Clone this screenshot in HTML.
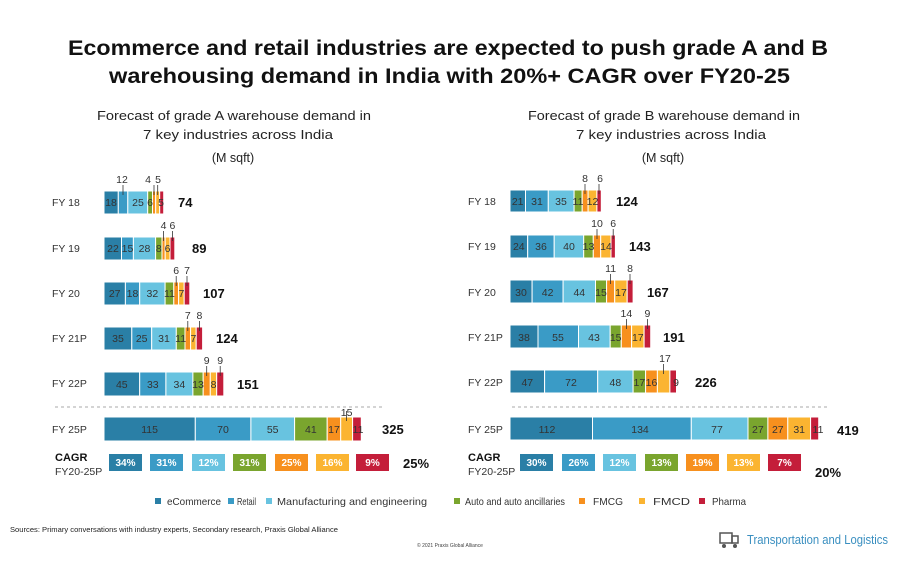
<!DOCTYPE html>
<html><head><meta charset="utf-8"><style>
body{margin:0;background:#fff}
svg{display:block;font-family:"Liberation Sans",sans-serif}
.e{fill:#2a7fa6}.r{fill:#3a9bc6}.m{fill:#68c3e0}.a{fill:#7aa52e}.g{fill:#f7901e}.d{fill:#fbb431}.p{fill:#c41e3a}
rect.s{stroke:#fff;stroke-width:1}
.in{font-size:10.5px;fill:#333;text-anchor:middle}
.ab{font-size:10.5px;fill:#333;text-anchor:middle}
.yr{font-size:10.5px;fill:#333}
.tot{font-size:13px;font-weight:bold;fill:#111}
.cg{font-size:10px;font-weight:bold;fill:#fff;text-anchor:middle}
line.l{stroke:#333;stroke-width:0.8}
.lg{font-size:10.5px;fill:#333}
</style></head><body>
<svg width="900" height="564" viewBox="0 0 900 564">
<text x="68" y="55" font-size="21" font-weight="bold" fill="#111" textLength="760" lengthAdjust="spacingAndGlyphs">Ecommerce and retail industries are expected to push grade A and B</text>
<text x="109" y="83" font-size="21" font-weight="bold" fill="#111" textLength="681" lengthAdjust="spacingAndGlyphs">warehousing demand in India with 20%+ CAGR over FY20-25</text>
<g font-size="12.5" fill="#222">
<text x="97" y="120" textLength="274" lengthAdjust="spacingAndGlyphs">Forecast of grade A warehouse demand in</text>
<text x="143" y="139" textLength="190" lengthAdjust="spacingAndGlyphs">7 key industries across India</text>
<text x="233" y="162" text-anchor="middle">(M sqft)</text>
<text x="528" y="120" textLength="272" lengthAdjust="spacingAndGlyphs">Forecast of grade B warehouse demand in</text>
<text x="576" y="139" textLength="190" lengthAdjust="spacingAndGlyphs">7 key industries across India</text>
<text x="663" y="162" text-anchor="middle">(M sqft)</text>
</g>

<!-- LEFT -->
<g class="yr"><text x="52" y="206">FY 18</text><text x="52" y="252">FY 19</text><text x="52" y="297">FY 20</text><text x="52" y="342">FY 21P</text><text x="52" y="387">FY 22P</text><text x="52" y="433">FY 25P</text></g>
<rect class="s e" x="104" y="191" width="14.3" height="23"/><rect class="s r" x="118.3" y="191" width="9.5" height="23"/><rect class="s m" x="127.8" y="191" width="19.9" height="23"/><rect class="s a" x="147.7" y="191" width="4.8" height="23"/><rect class="s g" x="152.5" y="191" width="3.2" height="23"/><rect class="s d" x="155.7" y="191" width="4" height="23"/><rect class="s p" x="159.7" y="191" width="4" height="23"/>
<text class="in" x="111" y="206">18</text><text class="in" x="138" y="206">25</text><text class="in" x="150" y="206">6</text><text class="in" x="161" y="206">5</text>
<line class="l" x1="123" y1="185" x2="123" y2="195"/><text class="ab" x="122" y="183">12</text>
<line class="l" x1="154" y1="185" x2="154" y2="195"/><text class="ab" x="148" y="183">4</text>
<line class="l" x1="157.7" y1="185" x2="157.7" y2="195"/><text class="ab" x="158" y="183">5</text>
<text class="tot" x="178" y="207">74</text>
<rect class="s e" x="104" y="237" width="17.5" height="23"/><rect class="s r" x="121.5" y="237" width="11.9" height="23"/><rect class="s m" x="133.4" y="237" width="22.2" height="23"/><rect class="s a" x="155.6" y="237" width="6.4" height="23"/><rect class="s g" x="162" y="237" width="3.2" height="23"/><rect class="s d" x="165.2" y="237" width="4.8" height="23"/><rect class="s p" x="170" y="237" width="4.8" height="23"/>
<text class="in" x="113" y="252">22</text><text class="in" x="127.5" y="252">15</text><text class="in" x="144.5" y="252">28</text><text class="in" x="158.8" y="252">8</text><text class="in" x="167.6" y="252">6</text>
<line class="l" x1="163.6" y1="231" x2="163.6" y2="241"/><text class="ab" x="163.6" y="229">4</text>
<line class="l" x1="172.4" y1="231" x2="172.4" y2="241"/><text class="ab" x="172.4" y="229">6</text>
<text class="tot" x="192" y="253">89</text>
<rect class="s e" x="104" y="282" width="21.4" height="23"/><rect class="s r" x="125.4" y="282" width="14.3" height="23"/><rect class="s m" x="139.7" y="282" width="25.4" height="23"/><rect class="s a" x="165.1" y="282" width="8.7" height="23"/><rect class="s g" x="173.8" y="282" width="4.8" height="23"/><rect class="s d" x="178.6" y="282" width="5.6" height="23"/><rect class="s p" x="184.2" y="282" width="5.6" height="23"/>
<text class="in" x="114.7" y="297">27</text><text class="in" x="132.5" y="297">18</text><text class="in" x="152.4" y="297">32</text><text class="in" x="169.4" y="297">11</text><text class="in" x="181.4" y="297">7</text>
<line class="l" x1="176.2" y1="276" x2="176.2" y2="286"/><text class="ab" x="176.2" y="274">6</text>
<line class="l" x1="187" y1="276" x2="187" y2="286"/><text class="ab" x="187" y="274">7</text>
<text class="tot" x="203" y="298">107</text>
<rect class="s e" x="104" y="327" width="27.8" height="23"/><rect class="s r" x="131.8" y="327" width="19.9" height="23"/><rect class="s m" x="151.7" y="327" width="24.6" height="23"/><rect class="s a" x="176.3" y="327" width="8.7" height="23"/><rect class="s g" x="185" y="327" width="5.6" height="23"/><rect class="s d" x="190.6" y="327" width="5.6" height="23"/><rect class="s p" x="196.2" y="327" width="6.4" height="23"/>
<text class="in" x="118" y="342">35</text><text class="in" x="141.7" y="342">25</text><text class="in" x="164" y="342">31</text><text class="in" x="180.6" y="342">11</text><text class="in" x="193.4" y="342">7</text>
<line class="l" x1="187.8" y1="321" x2="187.8" y2="331"/><text class="ab" x="187.8" y="319">7</text>
<line class="l" x1="199.4" y1="321" x2="199.4" y2="331"/><text class="ab" x="199.4" y="319">8</text>
<text class="tot" x="216" y="343">124</text>
<rect class="s e" x="104" y="372" width="35.7" height="24"/><rect class="s r" x="139.7" y="372" width="26.2" height="24"/><rect class="s m" x="165.9" y="372" width="27" height="24"/><rect class="s a" x="192.9" y="372" width="10.3" height="24"/><rect class="s g" x="203.2" y="372" width="7.1" height="24"/><rect class="s d" x="210.3" y="372" width="6.4" height="24"/><rect class="s p" x="216.7" y="372" width="7.1" height="24"/>
<text class="in" x="121.8" y="388">45</text><text class="in" x="152.8" y="388">33</text><text class="in" x="179.4" y="388">34</text><text class="in" x="198" y="388">13</text><text class="in" x="213.5" y="388">8</text>
<line class="l" x1="206.7" y1="366" x2="206.7" y2="376"/><text class="ab" x="206.7" y="364">9</text>
<line class="l" x1="220.2" y1="366" x2="220.2" y2="376"/><text class="ab" x="220.2" y="364">9</text>
<text class="tot" x="237" y="389">151</text>
<line x1="55" y1="407" x2="383" y2="407" stroke="#aaa" stroke-dasharray="3,3"/>
<rect class="s e" x="104" y="417" width="91.3" height="24"/><rect class="s r" x="195.3" y="417" width="55.6" height="24"/><rect class="s m" x="250.9" y="417" width="43.7" height="24"/><rect class="s a" x="294.6" y="417" width="32.6" height="24"/><rect class="s g" x="327.2" y="417" width="13.5" height="24"/><rect class="s d" x="340.7" y="417" width="11.9" height="24"/><rect class="s p" x="352.6" y="417" width="8.7" height="24"/>
<text class="in" x="149.6" y="433">115</text><text class="in" x="223" y="433">70</text><text class="in" x="272.7" y="433">55</text><text class="in" x="310.9" y="433">41</text><text class="in" x="334" y="433">17</text><text class="in" x="358" y="433">11</text>
<line class="l" x1="346.6" y1="411" x2="346.6" y2="421"/><text class="ab" x="346.6" y="416">15</text>
<text class="tot" x="382" y="434">325</text>
<text x="55" y="461" font-size="11" font-weight="bold" fill="#111">CAGR</text><text x="55" y="475" font-size="10.5" fill="#333">FY20-25P</text>
<rect class="e" x="109" y="454" width="33" height="17"/><text class="cg" x="125.5" y="466">34%</text>
<rect class="r" x="150" y="454" width="33" height="17"/><text class="cg" x="166.5" y="466">31%</text>
<rect class="m" x="192" y="454" width="33" height="17"/><text class="cg" x="208.5" y="466">12%</text>
<rect class="a" x="233" y="454" width="33" height="17"/><text class="cg" x="249.5" y="466">31%</text>
<rect class="g" x="275" y="454" width="33" height="17"/><text class="cg" x="291.5" y="466">25%</text>
<rect class="d" x="316" y="454" width="33" height="17"/><text class="cg" x="332.5" y="466">16%</text>
<rect class="p" x="356" y="454" width="33" height="17"/><text class="cg" x="372.5" y="466">9%</text>
<text class="tot" x="403" y="468">25%</text>

<!-- RIGHT -->
<g class="yr"><text x="468" y="205">FY 18</text><text x="468" y="250">FY 19</text><text x="468" y="296">FY 20</text><text x="468" y="341">FY 21P</text><text x="468" y="386">FY 22P</text><text x="468" y="433">FY 25P</text></g>
<rect class="s e" x="510" y="190" width="15.5" height="22"/><rect class="s r" x="525.5" y="190" width="22.8" height="22"/><rect class="s m" x="548.3" y="190" width="25.8" height="22"/><rect class="s a" x="574.1" y="190" width="8.1" height="22"/><rect class="s g" x="582.2" y="190" width="5.9" height="22"/><rect class="s d" x="588.1" y="190" width="8.8" height="22"/><rect class="s p" x="596.9" y="190" width="4.4" height="22"/>
<text class="in" x="517.7" y="205">21</text><text class="in" x="537" y="205">31</text><text class="in" x="561" y="205">35</text><text class="in" x="578" y="205">11</text><text class="in" x="592.5" y="205">12</text>
<line class="l" x1="585" y1="184" x2="585" y2="194"/><text class="ab" x="585" y="182">8</text>
<line class="l" x1="599" y1="184" x2="599" y2="194"/><text class="ab" x="600" y="182">6</text>
<text class="tot" x="616" y="206">124</text>
<rect class="s e" x="510" y="235" width="17.7" height="23"/><rect class="s r" x="527.7" y="235" width="26.5" height="23"/><rect class="s m" x="554.2" y="235" width="29.5" height="23"/><rect class="s a" x="583.7" y="235" width="9.6" height="23"/><rect class="s g" x="593.3" y="235" width="7.4" height="23"/><rect class="s d" x="600.7" y="235" width="10.3" height="23"/><rect class="s p" x="611" y="235" width="4.4" height="23"/>
<text class="in" x="518.8" y="250">24</text><text class="in" x="541" y="250">36</text><text class="in" x="569" y="250">40</text><text class="in" x="588.5" y="250">13</text><text class="in" x="606" y="250">14</text>
<line class="l" x1="597" y1="229" x2="597" y2="239"/><text class="ab" x="597" y="227">10</text>
<line class="l" x1="613.2" y1="229" x2="613.2" y2="239"/><text class="ab" x="613.2" y="227">6</text>
<text class="tot" x="629" y="251">143</text>
<rect class="s e" x="510" y="280" width="22.1" height="23"/><rect class="s r" x="532.1" y="280" width="31" height="23"/><rect class="s m" x="563.1" y="280" width="32.4" height="23"/><rect class="s a" x="595.5" y="280" width="11.1" height="23"/><rect class="s g" x="606.6" y="280" width="8.1" height="23"/><rect class="s d" x="614.7" y="280" width="12.5" height="23"/><rect class="s p" x="627.2" y="280" width="5.9" height="23"/>
<text class="in" x="521" y="296">30</text><text class="in" x="547.6" y="296">42</text><text class="in" x="579.3" y="296">44</text><text class="in" x="601" y="296">15</text><text class="in" x="621" y="296">17</text>
<line class="l" x1="610.6" y1="274" x2="610.6" y2="284"/><text class="ab" x="610.6" y="272">11</text>
<line class="l" x1="630" y1="274" x2="630" y2="284"/><text class="ab" x="630" y="272">8</text>
<text class="tot" x="647" y="297">167</text>
<rect class="s e" x="510" y="325" width="28" height="23"/><rect class="s r" x="538" y="325" width="40.5" height="23"/><rect class="s m" x="578.5" y="325" width="31.7" height="23"/><rect class="s a" x="610.2" y="325" width="11.1" height="23"/><rect class="s g" x="621.3" y="325" width="10.3" height="23"/><rect class="s d" x="631.6" y="325" width="12.5" height="23"/><rect class="s p" x="644.1" y="325" width="6.6" height="23"/>
<text class="in" x="524" y="341">38</text><text class="in" x="558" y="341">55</text><text class="in" x="594" y="341">43</text><text class="in" x="615.7" y="341">15</text><text class="in" x="637.8" y="341">17</text>
<line class="l" x1="626.4" y1="319" x2="626.4" y2="329"/><text class="ab" x="626.4" y="317">14</text>
<line class="l" x1="647.4" y1="319" x2="647.4" y2="329"/><text class="ab" x="647.4" y="317">9</text>
<text class="tot" x="663" y="342">191</text>
<rect class="s e" x="510" y="370" width="34.6" height="23"/><rect class="s r" x="544.6" y="370" width="53.1" height="23"/><rect class="s m" x="597.7" y="370" width="35.4" height="23"/><rect class="s a" x="633.1" y="370" width="12.5" height="23"/><rect class="s g" x="645.6" y="370" width="11.8" height="23"/><rect class="s d" x="657.4" y="370" width="12.5" height="23"/><rect class="s p" x="669.9" y="370" width="6.6" height="23"/>
<text class="in" x="527.3" y="386">47</text><text class="in" x="571" y="386">72</text><text class="in" x="615.4" y="386">48</text><text class="in" x="639.4" y="386">17</text><text class="in" x="651.5" y="386">16</text><text class="in" x="676" y="386">9</text>
<line class="l" x1="663.6" y1="364" x2="663.6" y2="374"/><text class="ab" x="665" y="362">17</text>
<text class="tot" x="695" y="387">226</text>
<line x1="512" y1="407" x2="828" y2="407" stroke="#aaa" stroke-dasharray="3,3"/>
<rect class="s e" x="510" y="417" width="82.5" height="23"/><rect class="s r" x="592.5" y="417" width="98.8" height="23"/><rect class="s m" x="691.3" y="417" width="56.7" height="23"/><rect class="s a" x="748" y="417" width="19.9" height="23"/><rect class="s g" x="767.9" y="417" width="19.9" height="23"/><rect class="s d" x="787.8" y="417" width="22.8" height="23"/><rect class="s p" x="810.6" y="417" width="8.1" height="23"/>
<text class="in" x="547" y="433">112</text><text class="in" x="640" y="433">134</text><text class="in" x="717" y="433">77</text><text class="in" x="757.9" y="433">27</text><text class="in" x="777.8" y="433">27</text><text class="in" x="799.2" y="433">31</text><text class="in" x="818" y="433">11</text>
<text class="tot" x="837" y="435">419</text>
<text x="468" y="461" font-size="11" font-weight="bold" fill="#111">CAGR</text><text x="468" y="475" font-size="10.5" fill="#333">FY20-25P</text>
<rect class="e" x="520" y="454" width="33" height="17"/><text class="cg" x="536.5" y="466">30%</text>
<rect class="r" x="562" y="454" width="33" height="17"/><text class="cg" x="578.5" y="466">26%</text>
<rect class="m" x="603" y="454" width="33" height="17"/><text class="cg" x="619.5" y="466">12%</text>
<rect class="a" x="645" y="454" width="33" height="17"/><text class="cg" x="661.5" y="466">13%</text>
<rect class="g" x="686" y="454" width="33" height="17"/><text class="cg" x="702.5" y="466">19%</text>
<rect class="d" x="727" y="454" width="33" height="17"/><text class="cg" x="743.5" y="466">13%</text>
<rect class="p" x="768" y="454" width="33" height="17"/><text class="cg" x="784.5" y="466">7%</text>
<text class="tot" x="815" y="477">20%</text>

<!-- legend -->
<rect class="e" x="155" y="498" width="6" height="6"/><text class="lg" x="167" y="505" textLength="54" lengthAdjust="spacingAndGlyphs">eCommerce</text>
<rect class="r" x="228" y="498" width="6" height="6"/><text class="lg" x="237" y="505" textLength="19" lengthAdjust="spacingAndGlyphs">Retail</text>
<rect class="m" x="266" y="498" width="6" height="6"/><text class="lg" x="277" y="505" textLength="150" lengthAdjust="spacingAndGlyphs">Manufacturing and engineering</text>
<rect class="a" x="454" y="498" width="6" height="6"/><text class="lg" x="465" y="505" textLength="100" lengthAdjust="spacingAndGlyphs">Auto and auto ancillaries</text>
<rect class="g" x="579" y="498" width="6" height="6"/><text class="lg" x="593" y="505" textLength="30" lengthAdjust="spacingAndGlyphs">FMCG</text>
<rect class="d" x="639" y="498" width="6" height="6"/><text class="lg" x="653" y="505" textLength="37" lengthAdjust="spacingAndGlyphs">FMCD</text>
<rect class="p" x="699" y="498" width="6" height="6"/><text class="lg" x="712" y="505" textLength="34" lengthAdjust="spacingAndGlyphs">Pharma</text>

<text x="10" y="532" font-size="7.5" fill="#222" textLength="328" lengthAdjust="spacingAndGlyphs">Sources: Primary conversations with industry experts, Secondary research, Praxis Global Alliance</text>
<text x="450" y="547" font-size="5" fill="#444" text-anchor="middle">© 2021 Praxis Global Alliance</text>
<rect x="720" y="533" width="12" height="10" fill="none" stroke="#555" stroke-width="1.5"/>
<rect x="732" y="536" width="6" height="7" fill="none" stroke="#555" stroke-width="1.5"/>
<circle cx="724" cy="546" r="2" fill="#555"/><circle cx="735" cy="546" r="2" fill="#555"/>
<text x="747" y="544" font-size="12.5" fill="#3a8fc0" textLength="141" lengthAdjust="spacingAndGlyphs">Transportation and Logistics</text>
</svg>
</body></html>
